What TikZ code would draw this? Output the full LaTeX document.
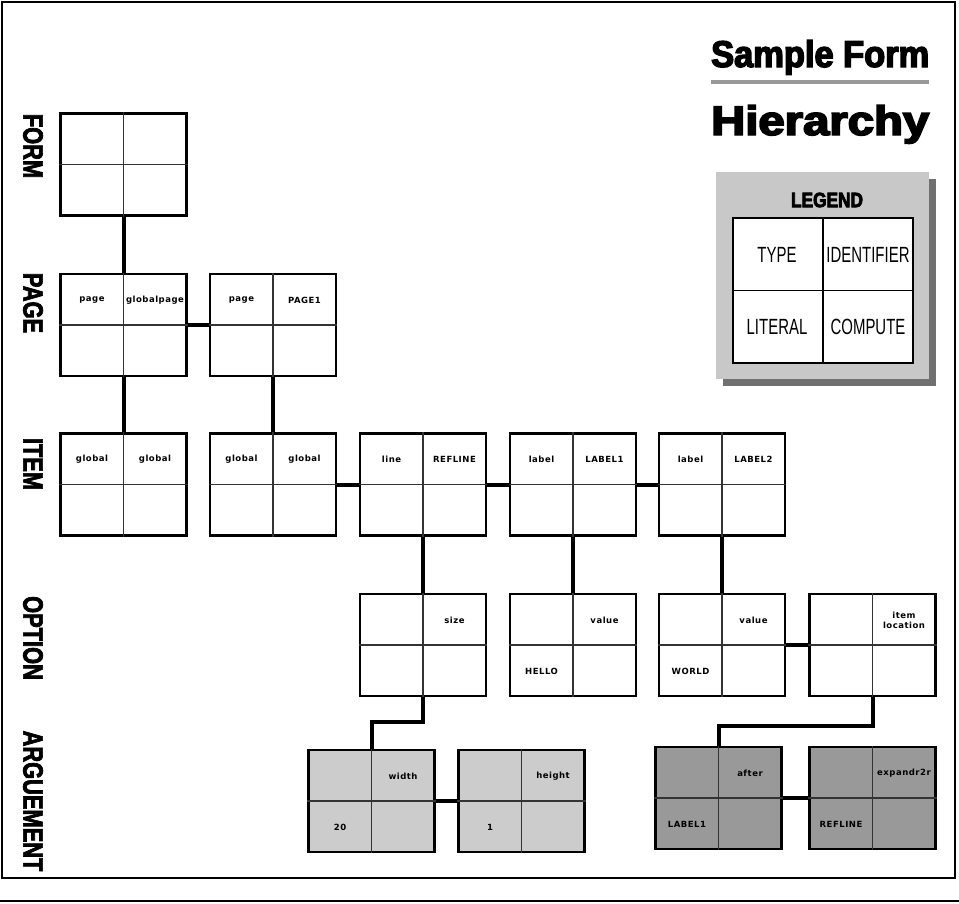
\documentclass[tikz,border=0pt]{standalone}
\usepackage{fontspec}
\usepackage{graphicx}
\setmainfont{Liberation Sans}
\newfontfamily\cellfont[LetterSpace=6]{DejaVu Sans Bold}
\newfontfamily\blackfont[FakeBold=2.5,FakeStretch=0.78]{Liberation Sans Bold}
\newfontfamily\titlefont[FakeBold=3.5,FakeStretch=0.8]{Liberation Sans Bold}
\newfontfamily\legendfont[FakeStretch=0.68]{Liberation Sans}
\usetikzlibrary{positioning,calc}
\definecolor{argLight}{HTML}{CCCCCC}
\definecolor{argDark}{HTML}{999999}
\definecolor{legendFill}{HTML}{C8C8C8}
\definecolor{legendShade}{HTML}{707070}
\definecolor{ruleGray}{HTML}{999999}

\begin{document}
\begin{tikzpicture}[x=1pt, y=-1pt,
    cell/.style={draw, line width=2.5pt, minimum width=126pt, minimum height=102pt, inner sep=0pt, fill=white},
    lightcell/.style={cell, fill=argLight},
    darkcell/.style={cell, fill=argDark},
    divider/.style={draw=black!80, line width=1.2pt},
    link/.style={line width=4pt},
    celltext/.style={font=\cellfont\fontsize{8.5}{10}\selectfont, inner sep=0pt, align=center},
    levellabel/.style={font=\blackfont\fontsize{28}{28}\selectfont, rotate=-90, inner sep=0pt},
    legendtext/.style={font=\legendfont\fontsize{22}{22}\selectfont, inner sep=0pt}]

    \useasboundingbox (0,0) rectangle (959,903);

    % Frame
    \draw[line width=2.5pt] (2,2) rectangle (955,878);
    \draw[line width=1.5pt] (0,901) -- (959,901);

    % Title
    \node[anchor=base west, inner sep=0pt] (title1) at (711,67)
        {\resizebox{218pt}{27pt}{\titlefont Sample Form}};
    \draw[ruleGray, line width=4pt] (711,82) -- (929,82);
    \node[anchor=base west, inner sep=0pt] (title2) at (711,135)
        {\resizebox{218pt}{30pt}{\titlefont Hierarchy}};

    % Level names
    \node[levellabel] (lform) at (33,146) {FORM};
    \node[levellabel] (lpage) at (33,303) {PAGE};
    \node[levellabel] (litem) at (33,464) {ITEM};
    \node[levellabel] (loption) at (33,638) {OPTION};
    \node[levellabel] (larg) at (33,801) {ARGUEMENT};

    % Legend
    \node[fill=legendShade, minimum width=213pt, minimum height=207pt] (lgshade) at (829.5,282.5) {};
    \node[fill=legendFill, minimum width=213pt, minimum height=207pt] (lgbox) at (822.5,275.5) {};
    \node[inner sep=0pt] (lgtitle) at (827,200)
        {\resizebox{72pt}{14.5pt}{\titlefont LEGEND}};
    \node[draw, line width=2pt, fill=white, minimum width=180pt, minimum height=145pt] (lgt) at (823,290.5) {};
    \draw[line width=1.4pt] (lgt.north) -- (lgt.south) (lgt.west) -- (lgt.east);
    \node[legendtext] (lgtype) at ($(lgt.center)+(-46,-36)$) {TYPE};
    \node[legendtext] (lgid) at ($(lgt.center)+(45,-36)$) {IDENTIFIER};
    \node[legendtext] (lglit) at ($(lgt.center)+(-46,36)$) {LITERAL};
    \node[legendtext] (lgcomp) at ($(lgt.center)+(45,36)$) {COMPUTE};

    % Boxes
    \node[cell] (f) at (123.5,164.5) {};
    \node[cell] (p1) at (123.5,325) {};
    \node[cell] (p2) at (273,325) {};
    \node[cell] (i1) at (123.5,484.5) {};
    \node[cell] (i2) at (273,484.5) {};
    \node[cell] (i3) at (423,484.5) {};
    \node[cell] (i4) at (573,484.5) {};
    \node[cell] (i5) at (722,484.5) {};
    \node[cell] (o1) at (423,645) {};
    \node[cell] (o2) at (573,645) {};
    \node[cell] (o3) at (722,645) {};
    \node[cell] (o4) at (872.5,645) {};
    \node[lightcell] (a1) at (371.5,801) {};
    \node[lightcell] (a2) at (521.5,801) {};
    \node[darkcell] (a3) at (718.5,798) {};
    \node[darkcell] (a4) at (872.5,798) {};

    \foreach \b in {f,p1,p2,i1,i2,i3,i4,i5,o1,o2,o3,o4,a1,a2,a3,a4}
        \draw[divider] (\b.north) -- (\b.south) (\b.west) -- (\b.east);

    % Cell texts
    \foreach \b/\tl/\tr/\bl in {p1/page/globalpage/, p2/page/PAGE1/,
            i1/global/global/, i2/global/global/, i3/line/REFLINE/,
            i4/label/LABEL1/, i5/label/LABEL2/,
            o1//size/, o2//value/HELLO, o3//value/WORLD, o4//{item\\location}/,
            a1//width/20, a2//height/1, a3//after/LABEL1, a4//expandr2r/REFLINE} {
        \node[celltext] (\b tl) at ($(\b.center)+(-31.5,-25)$) {\tl};
        \node[celltext] (\b tr) at ($(\b.center)+(31.5,-25)$) {\tr};
        \node[celltext] (\b bl) at ($(\b.center)+(-31.5,26)$) {\bl};
    }

    % Connectors
    \draw[link] (f.south) -- (p1.north);
    \draw[link] (p1.east) -- (p2.west);
    \draw[link] (p1.south) -- (i1.north);
    \draw[link] (p2.south) -- (i2.north);
    \draw[link] (i2.east) -- (i3.west);
    \draw[link] (i3.east) -- (i4.west);
    \draw[link] (i4.east) -- (i5.west);
    \draw[link] (i3.south) -- (o1.north);
    \draw[link] (i4.south) -- (o2.north);
    \draw[link] (i5.south) -- (o3.north);
    \draw[link] (o3.east) -- (o4.west);
    \draw[link] (o1.south) -- ++(0,25) -| (a1.north);
    \draw[link] (a1.east) -- (a2.west);
    \draw[link] (o4.south) -- ++(0,29) -| (a3.north);
    \draw[link] (a3.east) -- (a4.west);
\end{tikzpicture}
\end{document}
